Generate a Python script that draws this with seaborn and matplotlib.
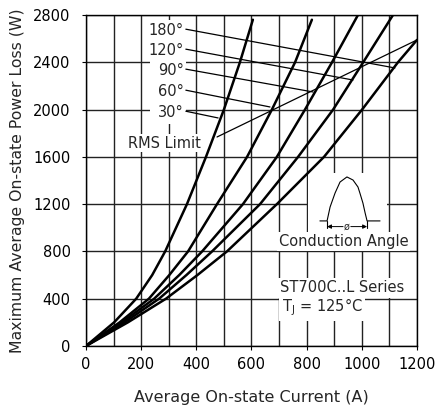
import numpy as np
import pandas as pd
import seaborn as sns
import matplotlib.pyplot as plt
from matplotlib.patches import Rectangle

# curves (current in A, power in W)
angles = ['30°', '60°', '90°', '120°', '180°']
c30_current = [0, 102, 182, 240, 287, 366, 435, 500, 558, 605]
c30_power = [0, 200, 400, 600, 800, 1200, 1600, 2000, 2400, 2760]
c60_current = [0, 122, 228, 302, 370, 475, 584, 674, 758, 819]
c60_power = [0, 200, 400, 600, 800, 1200, 1600, 2000, 2400, 2760]
c90_current = [0, 130, 247, 338, 421, 569, 692, 794, 892, 986]
c90_power = [0, 200, 400, 600, 800, 1200, 1600, 2000, 2400, 2800]
c120_current = [0, 140, 265, 364, 457, 631, 769, 896, 1005, 1113]
c120_power = [0, 200, 400, 600, 800, 1200, 1600, 2000, 2400, 2800]
c180_current = [0, 152, 290, 404, 511, 692, 863, 1001, 1131, 1200]
c180_power = [0, 200, 400, 600, 800, 1200, 1600, 2000, 2400, 2589]

# RMS limit line and where each label's leader meets its curve
rms_current = [475, 1200]
rms_power = [1768, 2589]
leader_current = [479, 667, 823, 968, 1120]
leader_power = [1929, 2022, 2149, 2250, 2352]

# conduction angle sketch
wave_current = [848, 874, 885, 903, 921, 946, 968, 986, 993, 1004, 1012, 1019, 1066]
wave_power = [1058, 1058, 1176, 1294, 1387, 1430, 1404, 1345, 1294, 1209, 1125, 1058, 1058]

xticks = [0, 200, 400, 600, 800, 1000, 1200]
yticks = [0, 400, 800, 1200, 1600, 2000, 2400, 2800]

currents = [c30_current, c60_current, c90_current, c120_current, c180_current]
powers = [c30_power, c60_power, c90_power, c120_power, c180_power]
rows = []
for a, cur, pw in zip(angles, currents, powers):
    for i, p in zip(cur, pw):
        rows.append((a, i, p))
df = pd.DataFrame(rows, columns=['angle', 'current', 'power'])

sns.set_style('white')
plt.rcParams['font.family'] = ['DejaVu Sans']

fig = plt.figure(figsize=(4.37, 4.11), dpi=100)
ax = fig.add_axes([0.1968, 0.1582, 0.7574, 0.8053])

sns.lineplot(data=df, x='current', y='power', hue='angle', palette=['black'] * 5,
             estimator=None, sort=False, legend=False, linewidth=1.8, ax=ax, zorder=4)

ax.plot(rms_current, rms_power, color='black', lw=0.9, zorder=3)

label_y = [1971, 2149, 2327, 2496, 2665]
for a, ly, ex, ey in zip(angles, label_y, leader_current, leader_power):
    ax.text(355, ly, a, ha='right', va='center', fontsize=10.5, zorder=6)
    ax.plot([362, ex], [ly + 15, ey], color='black', lw=0.9, zorder=3)

# white boxes hiding the grid behind labels
ax.add_patch(Rectangle((232, 1880), 131, 880, facecolor='white', edgecolor='none', zorder=1))
ax.add_patch(Rectangle((805, 820), 285, 645, facecolor='white', edgecolor='none', zorder=1))
ax.text(286, 1717, 'RMS Limit', ha='center', va='center', fontsize=10.5, zorder=6,
        bbox=dict(facecolor='white', edgecolor='none', pad=1))

# conduction angle inset
ax.plot(wave_current, wave_power, color='black', lw=0.8, zorder=3)
for x in [wave_current[1], wave_current[-2]]:
    ax.plot([x, x], [1058, 995], color='black', lw=0.8, zorder=3)
ax.annotate('', xy=(wave_current[1], 1010), xytext=(932, 1010),
            arrowprops=dict(arrowstyle='-|>', lw=0.7, color='black', mutation_scale=6,
                            shrinkA=0, shrinkB=0), zorder=3)
ax.annotate('', xy=(wave_current[-2], 1010), xytext=(960, 1010),
            arrowprops=dict(arrowstyle='-|>', lw=0.7, color='black', mutation_scale=6,
                            shrinkA=0, shrinkB=0), zorder=3)
ax.text(946, 1010, 'ø', ha='center', va='center', fontsize=7, zorder=6)
ax.text(934, 880, 'Conduction Angle', ha='center', va='center', fontsize=10.5, zorder=6,
        bbox=dict(facecolor='white', edgecolor='none', pad=1.5))

ax.text(705, 491, 'ST700C..L Series', ha='left', va='center', fontsize=10.5, zorder=6,
        bbox=dict(facecolor='white', edgecolor='none', pad=2))
ax.text(709, 330, 'T$_\\mathregular{J}$ = 125°C', ha='left', va='center', fontsize=10.5, zorder=6,
        bbox=dict(facecolor='white', edgecolor='none', pad=2))

ax.set_xlim(0, 1200)
ax.set_ylim(0, 2800)
ax.set_xticks(xticks)
ax.set_xticks(np.arange(0, 1201, 100), minor=True)
ax.set_yticks(yticks)
ax.set_axisbelow(True)
ax.grid(True, which='both', axis='x', color='#222222', lw=1.0, zorder=0)
ax.grid(True, which='major', axis='y', color='#222222', lw=1.0, zorder=0)
ax.tick_params(axis='both', which='major', direction='out', length=3, width=0.8,
               labelsize=10.5, colors='black', bottom=True, left=True)
ax.tick_params(axis='y', which='major', pad=8)
ax.tick_params(axis='x', which='major', pad=5)
ax.tick_params(axis='x', which='minor', length=0)
for s in ax.spines.values():
    s.set_color('black')
    s.set_linewidth(1.0)

ax.set_xlabel('Average On-state Current (A)', fontsize=11.5, labelpad=13)
ax.set_ylabel('Maximum Average On-state Power Loss (W)', fontsize=11.3, labelpad=6)

fig.savefig('out.png', dpi=100)
